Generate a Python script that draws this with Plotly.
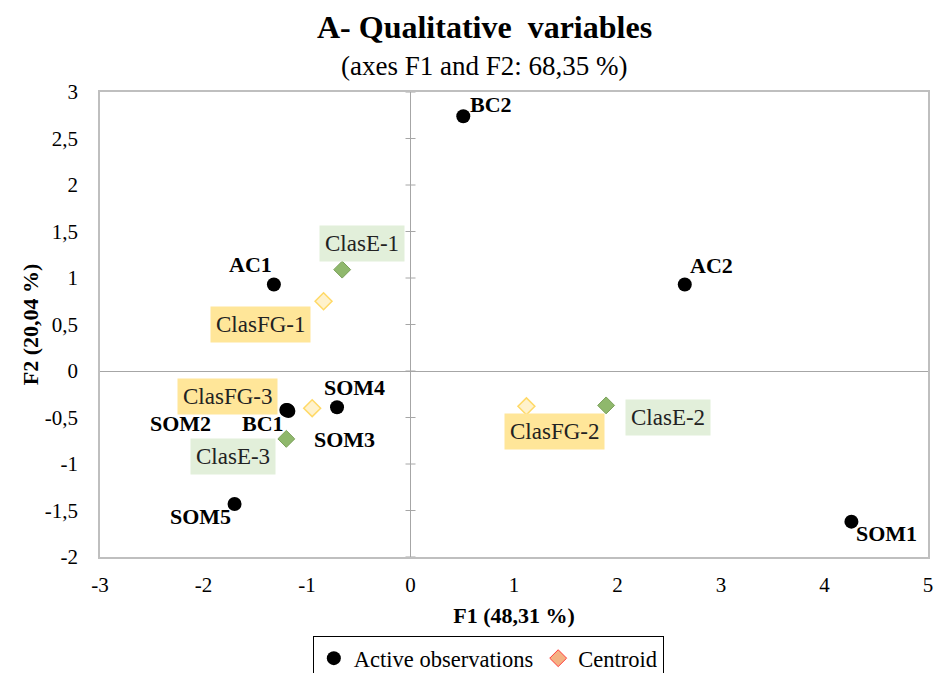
import plotly.graph_objects as go

# ---- data ----
obs_names = ["BC2", "AC1", "AC2", "SOM4", "SOM2", "BC1", "SOM3", "SOM5", "SOM1"]
obs_f1 = [0.51, -1.32, 2.65, -0.71, -1.20, -1.19, -1.18, -1.70, 4.26]
obs_f2 = [2.74, 0.93, 0.93, -0.39, -0.42, -0.42, -0.43, -1.43, -1.62]

cent_e_names = ["ClasE-1", "ClasE-2", "ClasE-3"]
cent_e_f1 = [-0.66, 1.89, -1.20]
cent_e_f2 = [1.09, -0.37, -0.73]

cent_fg_names = ["ClasFG-1", "ClasFG-2", "ClasFG-3"]
cent_fg_f1 = [-0.84, 1.12, -0.95]
cent_fg_f2 = [0.75, -0.38, -0.40]

x_ticks = [-3, -2, -1, 0, 1, 2, 3, 4, 5]
x_tick_labels = ["-3", "-2", "-1", "0", "1", "2", "3", "4", "5"]
y_ticks = [3, 2.5, 2, 1.5, 1, 0.5, 0, -0.5, -1, -1.5, -2]
y_tick_labels = ["3", "2,5", "2", "1,5", "1", "0,5", "0", "-0,5", "-1", "-1,5", "-2"]

# ---- label offsets (pixels) ----
obs_label_shift = [(28, 12), (-23, 20), (27, 19), (17, 20), (-106, -13),
                   (-24, -13), (56, -29), (-34, -13), (35, -12)]
e_label_shift = [(20, 26), (62, -12), (-53, -18)]
fg_label_shift = [(-63, -23), (28, -25), (-85, 12)]

FONT = "Liberation Serif"
GREEN_FILL = "#8FB86C"
GREEN_EDGE = "#7BA05A"
YEL_FILL = "#FFF2CC"
YEL_EDGE = "#FFD966"

fig = go.Figure()

fig.add_trace(go.Scatter(
    x=obs_f1, y=obs_f2, mode="markers", name="Active observations",
    marker=dict(symbol="circle", size=14, color="black"),
))
fig.add_trace(go.Scatter(
    x=cent_fg_f1, y=cent_fg_f2, mode="markers", showlegend=False,
    marker=dict(symbol="diamond", size=13, color=YEL_FILL,
                line=dict(color=YEL_EDGE, width=1.5)),
))
fig.add_trace(go.Scatter(
    x=cent_e_f1, y=cent_e_f2, mode="markers", showlegend=False,
    marker=dict(symbol="diamond", size=13, color=GREEN_FILL,
                line=dict(color=GREEN_EDGE, width=1)),
))
fig.add_trace(go.Scatter(
    x=[None], y=[None], mode="markers", name="Centroid",
    marker=dict(symbol="diamond", size=13, color="#F4B183",
                line=dict(color="#FF3B3B", width=1)),
))

ann = []
for n, x, y, (dx, dy) in zip(obs_names, obs_f1, obs_f2, obs_label_shift):
    ann.append(dict(x=x, y=y, xref="x", yref="y", text=f"<b>{n}</b>",
                    showarrow=False, xshift=dx, yshift=dy,
                    font=dict(family=FONT, size=22, color="black")))
for n, x, y, (dx, dy) in zip(cent_e_names, cent_e_f1, cent_e_f2, e_label_shift):
    ann.append(dict(x=x, y=y, xref="x", yref="y", text=n,
                    showarrow=False, xshift=dx, yshift=dy,
                    bgcolor="#E2EFDA", borderpad=5,
                    font=dict(family=FONT, size=23, color="#222")))
for n, x, y, (dx, dy) in zip(cent_fg_names, cent_fg_f1, cent_fg_f2, fg_label_shift):
    ann.append(dict(x=x, y=y, xref="x", yref="y", text=n,
                    showarrow=False, xshift=dx, yshift=dy,
                    bgcolor="#FFE699", borderpad=5,
                    font=dict(family=FONT, size=23, color="#222")))

ann.append(dict(x=0.464, y=1, xref="paper", yref="paper", yshift=65,
                yanchor="middle", xanchor="center",
                text="<b>A- Qualitative  variables</b>", showarrow=False,
                font=dict(family=FONT, size=32, color="black")))
ann.append(dict(x=0.464, y=1, xref="paper", yref="paper", yshift=26,
                yanchor="middle", xanchor="center",
                text="(axes F1 and F2: 68,35 %)", showarrow=False,
                font=dict(family=FONT, size=27, color="black")))

# tick crosses on the vertical zero axis
shapes = []
for t in y_ticks:
    shapes.append(dict(type="line", xref="x", yref="y", xsizemode="pixel",
                       xanchor=0, x0=-5, x1=5, y0=t, y1=t,
                       line=dict(color="#A6A6A6", width=1)))

fig.update_layout(
    width=935, height=673,
    margin=dict(l=100, r=7, t=92, b=116, autoexpand=False),
    paper_bgcolor="white", plot_bgcolor="white",
    font=dict(family=FONT, size=21, color="black"),
    annotations=ann, shapes=shapes,
    showlegend=True,
    legend=dict(orientation="h", x=0.469, xanchor="center", y=-0.17, yanchor="top",
                bordercolor="black", borderwidth=1, bgcolor="white",
                font=dict(family=FONT, size=22.5, color="black"),
                itemwidth=30, tracegroupgap=0),
)
fig.update_xaxes(
    range=[-3, 5], tickvals=x_ticks, ticktext=x_tick_labels, automargin=False,
    showgrid=False, zeroline=True, zerolinecolor="#A6A6A6", zerolinewidth=1,
    showline=True, mirror=True, linecolor="#BFBFBF", linewidth=1.5,
    ticks="", ticklabelstandoff=8, tickfont=dict(family=FONT, size=21),
    title=dict(text="<b>F1 (48,31 %)</b>", font=dict(family=FONT, size=22), standoff=12),
)
fig.update_yaxes(
    range=[-2, 3], tickvals=y_ticks, ticktext=y_tick_labels, automargin=False,
    showgrid=False, zeroline=True, zerolinecolor="#A6A6A6", zerolinewidth=1,
    showline=True, mirror=True, linecolor="#BFBFBF", linewidth=1.5,
    ticks="", ticklabelstandoff=16, tickfont=dict(family=FONT, size=21),
    title=dict(text="<b>F2 (20,04 %)</b>", font=dict(family=FONT, size=22), standoff=0),
)

fig.write_html("out.html", config={"displayModeBar": False},
               post_script="document.body.style.margin='0';")
